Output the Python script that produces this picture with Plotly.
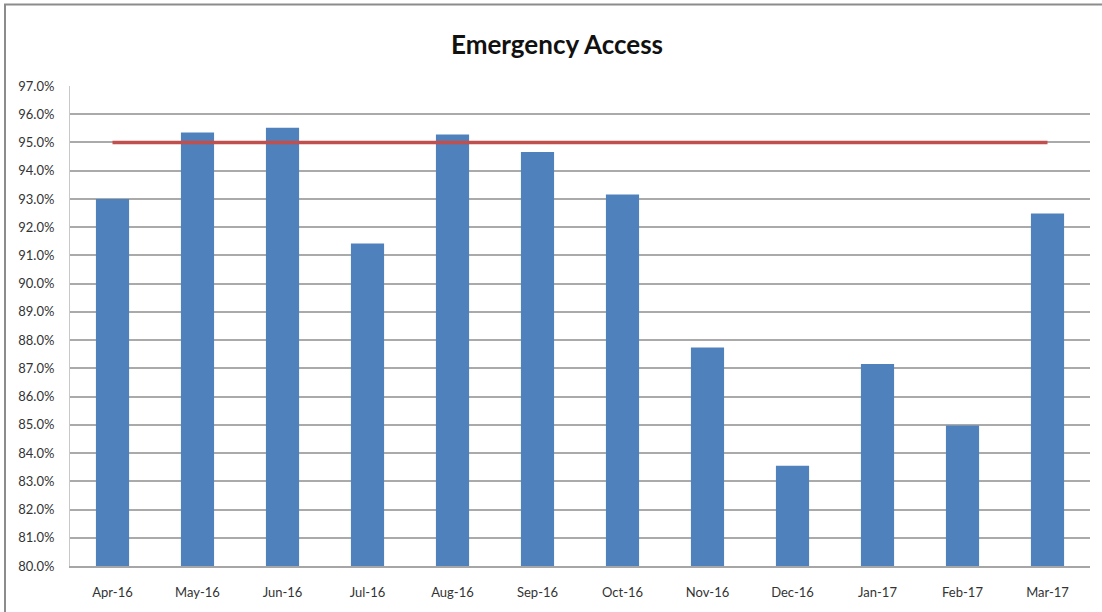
import plotly.graph_objects as go

months = ["Apr-16", "May-16", "Jun-16", "Jul-16", "Aug-16", "Sep-16",
          "Oct-16", "Nov-16", "Dec-16", "Jan-17", "Feb-17", "Mar-17"]
access_pct = [93.0, 95.35, 95.52, 91.42, 95.28, 94.66,
              93.16, 87.74, 83.55, 87.15, 84.98, 92.48]
target_pct = [95.0] * len(months)
y_ticks = list(range(80, 98))

W, H = 1102, 612
left, right, top, bottom = 70, 12, 86, 43
plot_w = W - left - right
plot_h = H - top - bottom

fig = go.Figure()
fig.add_trace(go.Bar(
    x=months, y=access_pct, width=0.39,
    marker=dict(color="#4F81BD", line=dict(width=0)),
    name="Emergency Access",
))
fig.add_trace(go.Scatter(
    x=months, y=target_pct, mode="lines",
    line=dict(color="#C0504D", width=3.5),
    name="Target",
))

fig.update_layout(
    width=W, height=H,
    margin=dict(l=left, r=right, t=top, b=bottom),
    paper_bgcolor="white", plot_bgcolor="white",
    showlegend=False,
    title=dict(
        text="<b>Emergency Access</b>",
        x=557 / W, xanchor="center", xref="container",
        y=1 - 45 / H, yanchor="middle", yref="container",
        font=dict(family="Lato", size=26, color="#111111"),
    ),
    font=dict(family="Lato", size=13, color="#333333"),
    xaxis=dict(
        showgrid=False, showline=True, linecolor="#A6A6A6", linewidth=1.5,
        ticks="", ticklabelstandoff=14,
        tickfont=dict(family="Lato", size=13, color="#333333"),
    ),
    yaxis=dict(
        range=[80, 97], tickvals=y_ticks,
        ticktext=[f"{v:.1f}%" for v in y_ticks],
        showgrid=True, gridcolor="#AAAAAA", gridwidth=1.5,
        showline=True, linecolor="#C8C8C8", linewidth=1,
        zeroline=False, ticks="", ticklabelstandoff=12,
        tickfont=dict(family="Lato", size=13, color="#333333"),
    ),
    # outer frame around the chart area (left and top edges fall inside the page)
    shapes=[dict(
        type="rect", xref="paper", yref="paper",
        x0=(5 - left) / plot_w, x1=(W + 5 - left) / plot_w,
        y0=(H - bottom - (H + 5)) / plot_h,
        y1=(H - bottom - 4) / plot_h,
        line=dict(color="#8C8C8C", width=2), layer="below",
    )],
)

fig.write_html("out.html")
